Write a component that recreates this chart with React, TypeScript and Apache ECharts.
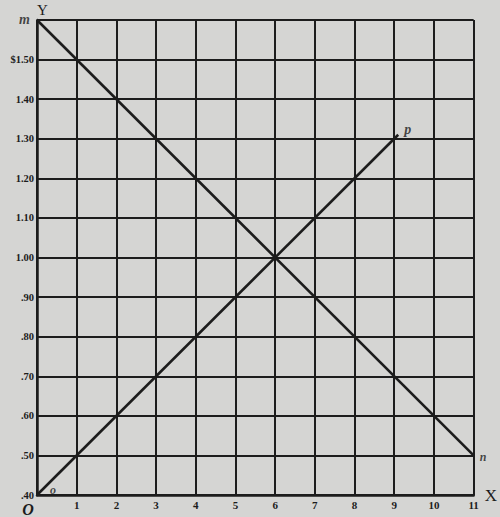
import React, { useEffect, useRef } from "react";
import * as echarts from "echarts";

// price scale, dollars
const yTicks = [0.4, 0.5, 0.6, 0.7, 0.8, 0.9, 1.0, 1.1, 1.2, 1.3, 1.4, 1.5, 1.6];
const xTicks = [0, 1, 2, 3, 4, 5, 6, 7, 8, 9, 10, 11];

// m -> n (falling line), o -> p (rising line)
const lineMN: [number, number][] = [
  [0, 1.6],
  [11, 0.5],
];
const lineOP: [number, number][] = [
  [0, 0.4],
  [9.1, 1.31],
];
const endNames = { mn: ["m", "n"], op: ["o", "p"] };

const INK = "#1c1c1c";
const SERIF = "'Liberation Serif', 'DejaVu Serif', serif";

function fmtY(v: number) {
  const r = Math.round(v * 100) / 100;
  if (Math.abs(r - 1.6) < 0.001) return "";
  if (Math.abs(r - 1.5) < 0.001) return "$1.50";
  if (r >= 1) return r.toFixed(2);
  return "." + Math.round(r * 100).toString();
}

export default function App() {
  const ref = useRef<HTMLDivElement>(null);

  useEffect(() => {
    if (!ref.current) return;
    const chart = echarts.init(ref.current, undefined, { renderer: "svg" });

    const pointLabel = (text: string, position: any, offset: number[], size = 14) => ({
      show: true,
      formatter: text,
      position,
      offset,
      color: INK,
      fontFamily: SERIF,
      fontStyle: "italic",
      fontWeight: "bold",
      fontSize: size,
    });

    const lineSeries = (data: [number, number][]) => ({
      type: "line",
      symbol: "none",
      lineStyle: { color: INK, width: 2.6 },
      data,
    });

    chart.setOption({
      animation: false,
      backgroundColor: "#d5d5d3",
      grid: { left: 37, right: 23, top: 20, bottom: 20, show: false },
      xAxis: {
        type: "value",
        min: xTicks[0],
        max: xTicks[xTicks.length - 1],
        interval: 1,
        name: "X",
        nameLocation: "end",
        nameGap: 2,
        nameTextStyle: {
          color: INK,
          fontFamily: SERIF,
          fontSize: 17,
          verticalAlign: "middle",
          padding: [0, 0, 8, 0],
        },
        axisLine: { show: true, lineStyle: { color: INK, width: 2.5 } },
        axisTick: { show: false },
        splitLine: { show: true, lineStyle: { color: INK, width: 2 } },
        axisLabel: {
          margin: 4,
          color: INK,
          fontFamily: SERIF,
          fontWeight: "bold",
          fontSize: 11,
          formatter: (v: number) => (v === 0 ? "{o|O}" : String(v)),
          rich: {
            o: {
              fontFamily: SERIF,
              fontStyle: "italic",
              fontWeight: "bold",
              fontSize: 16,
              color: INK,
              padding: [2, 18, 0, 0],
            },
          },
        },
      },
      yAxis: {
        type: "value",
        min: yTicks[0],
        max: yTicks[yTicks.length - 1],
        interval: 0.1,
        name: "Y",
        nameLocation: "end",
        nameGap: 3,
        nameTextStyle: {
          color: INK,
          fontFamily: SERIF,
          fontSize: 15,
          align: "left",
        },
        axisLine: { show: true, lineStyle: { color: INK, width: 2.5 } },
        axisTick: { show: false },
        splitLine: { show: true, lineStyle: { color: INK, width: 2 } },
        axisLabel: {
          margin: 3,
          color: INK,
          fontFamily: SERIF,
          fontWeight: "bold",
          fontSize: 10.5,
          formatter: fmtY,
        },
      },
      series: [
        lineSeries(lineMN),
        lineSeries(lineOP),
        {
          // letters naming the ends of the two lines
          type: "scatter",
          symbol: "circle",
          symbolSize: 2,
          itemStyle: { color: "transparent" },
          clip: false,
          silent: true,
          data: [
            { value: lineMN[0], label: pointLabel(endNames.mn[0], "left", [-1, -1]) },
            { value: lineMN[1], label: pointLabel(endNames.mn[1], "right", [0, 2], 12) },
            { value: lineOP[0], label: pointLabel(endNames.op[0], "right", [7, -5], 12) },
            { value: lineOP[1], label: pointLabel(endNames.op[1], "right", [0, -5]) },
          ],
        },
      ],
    });

    return () => chart.dispose();
  }, []);

  return (
    <div
      ref={ref}
      style={{ position: "fixed", left: 0, top: 0, width: 500, height: 517 }}
    />
  );
}
